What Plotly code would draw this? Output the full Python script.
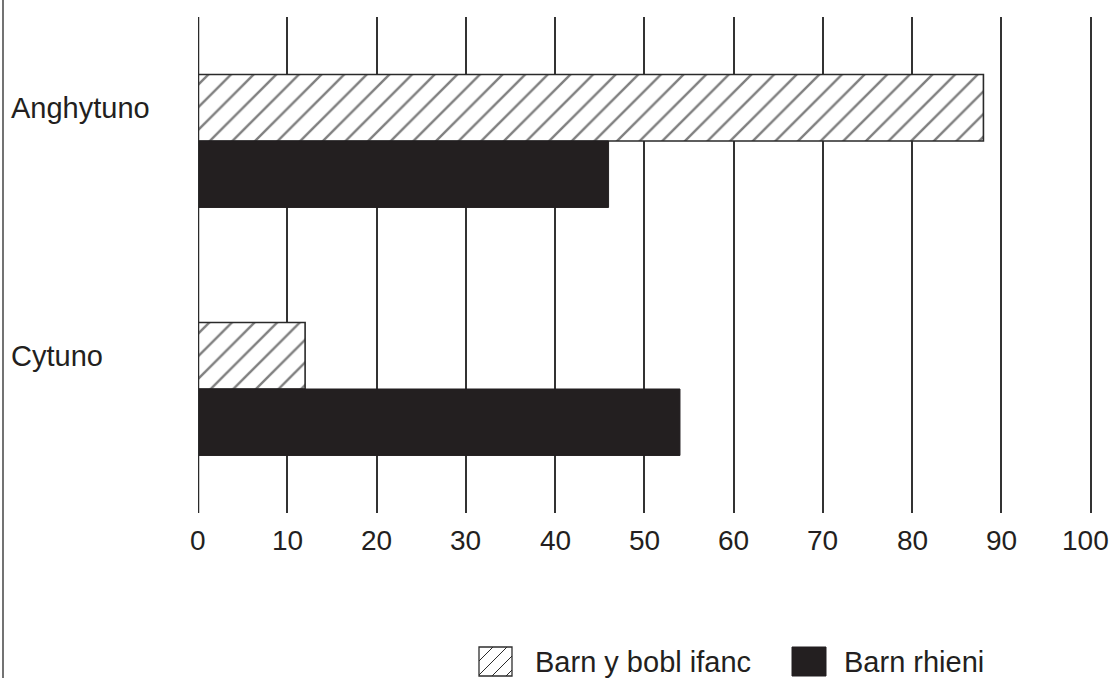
import plotly.graph_objects as go

categories = ["Anghytuno", "Cytuno"]
series_names = ["Barn y bobl ifanc", "Barn rhieni"]
young_values = [88, 12]
parent_values = [46, 54]
x_ticks = [0, 10, 20, 30, 40, 50, 60, 70, 80, 90, 100]

INK = "#231f20"
FONT = "Liberation Sans, Arial, sans-serif"

W, H = 1113, 678
L, R, T, B = 198, 18, 17, 165
PW, PH = W - L - R, H - T - B
X_MAX = 100.5


def px(x):
    return (x - L) / PW


def py(y):
    return (H - B - y) / PH


fig = go.Figure()
fig.add_trace(go.Bar(
    y=categories, x=young_values, orientation="h", name=series_names[0],
    marker=dict(color="white",
                line=dict(color="#2a2a2a", width=1.6),
                pattern=dict(shape="/", fgcolor="#000000", bgcolor="white",
                             size=16, solidity=0.15)),
))
fig.add_trace(go.Bar(
    y=categories, x=parent_values, orientation="h", name=series_names[1],
    marker=dict(color=INK, line=dict(color=INK, width=1)),
))

# category labels, left aligned, level with the first bar of each group
for c in categories:
    fig.add_annotation(x=px(9), xref="paper", y=c, yref="y", text=c,
                       showarrow=False, xanchor="left", yanchor="middle",
                       yshift=33, font=dict(size=29, color=INK, family=FONT))

# x tick labels (last one nudged inward so it stays on the page, as in the source)
for t in x_ticks:
    fig.add_annotation(x=t, xref="x", y=py(540), yref="paper", text=str(t),
                       showarrow=False, xanchor="center", yanchor="middle",
                       xshift=-5 if t == x_ticks[-1] else 0,
                       font=dict(size=28, color=INK, family=FONT))

# page frame line at left
fig.add_shape(type="line", xref="paper", yref="paper",
              x0=px(3), x1=px(3), y0=py(H), y1=py(0),
              line=dict(color="#444444", width=1.5))

# custom legend
sx0, sx1, sy0, sy1 = 479, 512, 647, 676
fig.add_shape(type="rect", xref="paper", yref="paper",
              x0=px(sx0), x1=px(sx1), y0=py(sy1), y1=py(sy0),
              line=dict(color="#2e2e2e", width=1.3), fillcolor="white")
size = sy1 - sy0
for k in range(-size, sx1 - sx0, 14):
    xa, ya = sx0 + k, sy1
    xb, yb = sx0 + k + size, sy0
    if xa < sx0:
        ya = sy1 - (sx0 - xa)
        xa = sx0
    if xb > sx1:
        yb = sy0 + (xb - sx1)
        xb = sx1
    if xb - xa > 1:
        fig.add_shape(type="line", xref="paper", yref="paper",
                      x0=px(xa), y0=py(ya), x1=px(xb), y1=py(yb),
                      line=dict(color="#2a2a2a", width=1))
fig.add_shape(type="rect", xref="paper", yref="paper",
              x0=px(792), x1=px(826), y0=py(676), y1=py(647),
              line=dict(color=INK, width=1), fillcolor=INK)
fig.add_annotation(x=px(533), xref="paper", y=py(662), yref="paper",
                   text=series_names[0], showarrow=False, xanchor="left",
                   yanchor="middle", font=dict(size=29, color=INK, family=FONT))
fig.add_annotation(x=px(842), xref="paper", y=py(662), yref="paper",
                   text=series_names[1], showarrow=False, xanchor="left",
                   yanchor="middle", font=dict(size=29, color=INK, family=FONT))

fig.update_layout(
    width=W, height=H,
    margin=dict(l=L, r=R, t=T, b=B, autoexpand=False),
    paper_bgcolor="white", plot_bgcolor="white",
    barmode="group", bargap=0.464, bargroupgap=0,
    font=dict(family=FONT, color=INK, size=29),
    showlegend=False,
    xaxis=dict(range=[0, X_MAX], tickvals=x_ticks, showticklabels=False,
               showgrid=True, gridcolor="#333333", gridwidth=1.5,
               zeroline=False, showline=False, ticks="", automargin=False,
               fixedrange=True),
    yaxis=dict(categoryorder="array", categoryarray=categories, autorange="reversed",
               showticklabels=False, showgrid=False, zeroline=False,
               showline=False, ticks="", fixedrange=True, automargin=False),
)
fig.add_shape(type="line", xref="x", yref="paper", x0=0, x1=0, y0=0, y1=1,
              line=dict(color="#2a2a2a", width=2.5), layer="above")

fig.write_html("out.html", config={"displayModeBar": False},
               post_script="document.body.style.margin='0px';document.body.style.padding='0px';")
